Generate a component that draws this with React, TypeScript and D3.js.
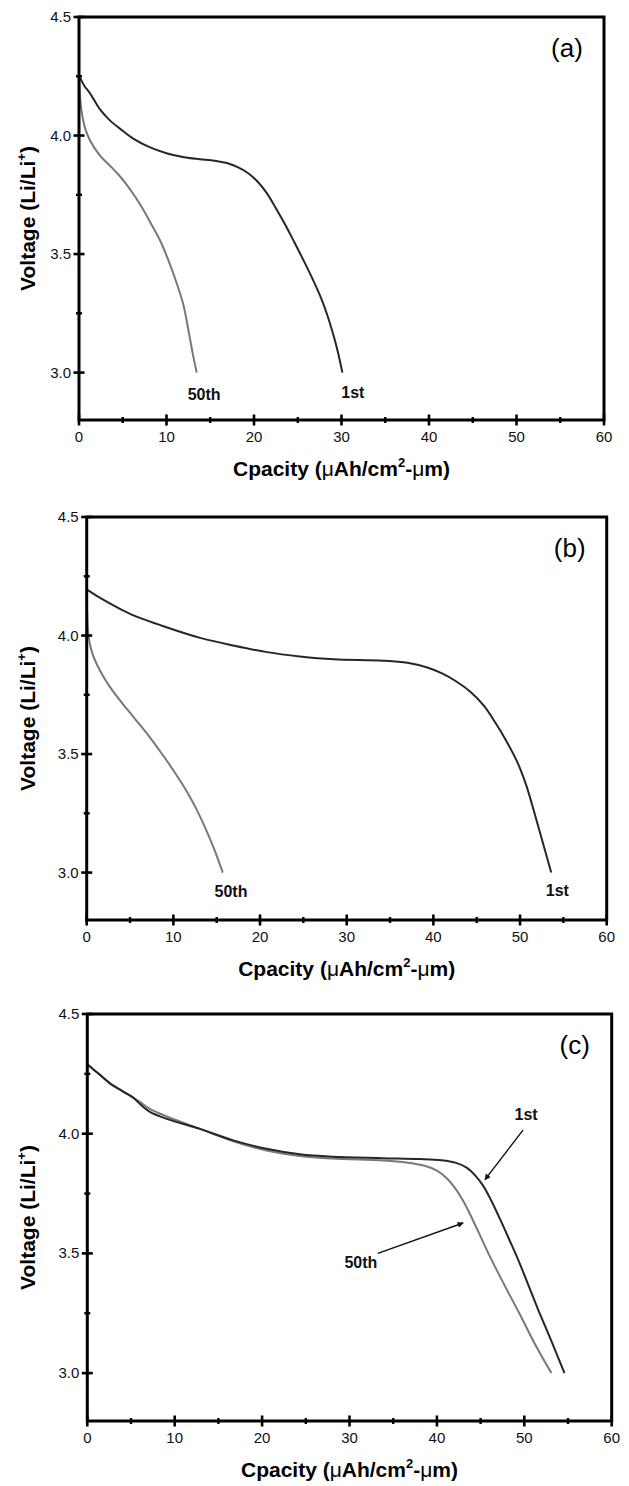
import React from 'react';
import * as d3 from 'd3';

// Axis ticks shared by the three discharge panels
const capacityTicks = [0, 10, 20, 30, 40, 50, 60];
const capacityMinorTicks = [5, 15, 25, 35, 45, 55];
const voltageTicks = [3.0, 3.5, 4.0, 4.5];
const voltageMinorTicks = [3.25, 3.75, 4.25];
const capacityDomain: [number, number] = [0, 60];
const voltageDomain: [number, number] = [2.8, 4.5];

// Discharge curves: [capacity (µAh/cm²-µm), voltage (V vs Li/Li+)]
const panelA_1st: [number, number][] = [
  [0, 4.255], [0.6, 4.21], [1.26, 4.178], [2.4, 4.11], [3.5, 4.065], [5, 4.02],
  [6.2, 3.987], [8, 3.952], [10, 3.925], [12, 3.908], [13.8, 3.9], [15.5, 3.894],
  [16.9, 3.884], [18.2, 3.866], [19.3, 3.842], [20.4, 3.806], [21.4, 3.76],
  [22.4, 3.7], [23.4, 3.635], [24.4, 3.565], [25.3, 3.5], [26.5, 3.41],
  [27.6, 3.32], [28.4, 3.24], [29.1, 3.155], [29.6, 3.085], [30.1, 3.0],
];
const panelA_50th: [number, number][] = [
  [0, 4.25], [0.15, 4.15], [0.35, 4.09], [0.7, 4.03], [1.25, 3.98], [2.4, 3.915],
  [3.4, 3.878], [4.4, 3.84], [5.4, 3.795], [6.4, 3.743], [7.3, 3.69],
  [8.2, 3.63], [9.3, 3.555], [10.2, 3.475], [11.0, 3.395], [11.9, 3.29],
  [12.6, 3.16], [13.0, 3.08], [13.45, 3.0],
];
const panelB_1st: [number, number][] = [
  [0, 4.195], [1.5, 4.16], [3.46, 4.12], [5.4, 4.085], [9.2, 4.035], [13.1, 3.99],
  [16.9, 3.958], [20.8, 3.93], [24.6, 3.912], [28.5, 3.9], [34.2, 3.894],
  [37, 3.885], [39.3, 3.865], [41, 3.84], [42.7, 3.805], [44.3, 3.762],
  [45.8, 3.705], [47.2, 3.63], [48.5, 3.55], [49.7, 3.465], [50.7, 3.37],
  [51.6, 3.26], [52.6, 3.13], [53.6, 3.0],
];
const panelB_50th: [number, number][] = [
  [0, 4.19], [0.05, 4.1], [0.2, 4.0], [0.6, 3.93], [1.15, 3.88], [2.0, 3.822],
  [2.9, 3.772], [4.2, 3.71], [5.5, 3.652], [7.2, 3.575], [8.8, 3.495],
  [10.2, 3.42], [11.5, 3.345], [12.6, 3.272], [13.6, 3.195], [14.7, 3.1],
  [15.7, 3.0],
];
const panelC_1st: [number, number][] = [
  [0, 4.29], [1.3, 4.25], [2.6, 4.21], [4, 4.178], [5.2, 4.152], [6.2, 4.118],
  [7.2, 4.09], [9.1, 4.062], [12.9, 4.02], [16.7, 3.972], [20.5, 3.937],
  [24.3, 3.914], [28, 3.904], [33.8, 3.898], [38, 3.894], [40.5, 3.889],
  [42.2, 3.878], [43.4, 3.858], [44.4, 3.825], [45.3, 3.782], [46.2, 3.722],
  [47.2, 3.645], [48.3, 3.556], [49.4, 3.465], [50.5, 3.364], [51.7, 3.255],
  [53.2, 3.125], [54.6, 3.0],
];
const panelC_50th: [number, number][] = [
  [0, 4.29], [1.3, 4.25], [2.6, 4.21], [4, 4.178], [5.2, 4.152], [6.2, 4.128],
  [7.2, 4.103], [9.1, 4.072], [12.9, 4.02], [16.7, 3.968], [20.5, 3.93],
  [24.3, 3.907], [28, 3.896], [33.8, 3.888], [36.5, 3.88], [38.6, 3.866],
  [40.0, 3.846], [41.1, 3.815], [42.1, 3.772], [43.0, 3.72], [44.0, 3.648],
  [45.0, 3.57], [46.0, 3.492], [47.2, 3.405], [48.3, 3.328], [49.4, 3.252],
  [51.2, 3.123], [53.1, 3.0],
];

const panelLetters = ['(a)', '(b)', '(c)'];
const cycleNames = ['1st', '50th'];

type Frame = { left: number; right: number; top: number; bottom: number };
type Note = { text: string; at: [number, number]; from?: [number, number]; to?: [number, number] };

const FONT = "'Liberation Sans', Arial, Helvetica, sans-serif";
const DARK = '#262626';
const GREY = '#787878';

const panels: {
  frame: Frame;
  letter: string;
  first: [number, number][];
  fiftieth: [number, number][];
  notes: Note[];
}[] = [
  {
    frame: { left: 79, right: 604, top: 17, bottom: 420 },
    letter: panelLetters[0],
    first: panelA_1st,
    fiftieth: panelA_50th,
    notes: [
      { text: cycleNames[1], at: [14.3, 2.884] },
      { text: cycleNames[0], at: [31.3, 2.892] },
    ],
  },
  {
    frame: { left: 86.7, right: 606.7, top: 517, bottom: 920 },
    letter: panelLetters[1],
    first: panelB_1st,
    fiftieth: panelB_50th,
    notes: [
      { text: cycleNames[1], at: [16.65, 2.897] },
      { text: cycleNames[0], at: [54.3, 2.9] },
    ],
  },
  {
    frame: { left: 87.3, right: 611.7, top: 1014, bottom: 1421 },
    letter: panelLetters[2],
    first: panelC_1st,
    fiftieth: panelC_50th,
    notes: [
      { text: cycleNames[0], at: [50.2, 4.057], from: [49.85, 4.015], to: [45.5, 3.808] },
      { text: cycleNames[1], at: [31.3, 3.441], from: [33.24, 3.5], to: [43.0, 3.627] },
    ],
  },
];

function Panel({ p, idx }: { p: (typeof panels)[number]; idx: number }) {
  const { frame } = p;
  const x = d3.scaleLinear().domain(capacityDomain).range([frame.left, frame.right]);
  const y = d3.scaleLinear().domain(voltageDomain).range([frame.bottom, frame.top]);
  const line = d3
    .line<[number, number]>()
    .x((d) => x(d[0]))
    .y((d) => y(d[1]))
    .curve(d3.curveCatmullRom.alpha(0.5));
  const midX = (frame.left + frame.right) / 2;
  const midY = (frame.top + frame.bottom) / 2;
  const markerId = `arrow-${idx}`;

  return (
    <g>
      <defs>
        <marker id={markerId} viewBox="0 0 10 10" refX="9" refY="5" markerWidth="8" markerHeight="6" orient="auto" markerUnits="userSpaceOnUse">
          <path d="M0,0 L10,5 L0,10 z" fill="#111" />
        </marker>
      </defs>

      {/* curves */}
      <path d={line(p.fiftieth) ?? ''} fill="none" stroke={GREY} strokeWidth={2} strokeLinejoin="round" />
      <path d={line(p.first) ?? ''} fill="none" stroke={DARK} strokeWidth={2} strokeLinejoin="round" />

      {/* frame */}
      <rect
        x={frame.left}
        y={frame.top}
        width={frame.right - frame.left}
        height={frame.bottom - frame.top}
        fill="none"
        stroke="#000"
        strokeWidth={3}
      />

      {/* x ticks */}
      {capacityTicks.map((t) => (
        <g key={`xt${t}`}>
          <line x1={x(t)} x2={x(t)} y1={frame.bottom - 5.5} y2={frame.bottom + 5.5} stroke="#000" strokeWidth={2.6} />
          <text x={x(t)} y={frame.bottom + 22} textAnchor="middle" fontFamily={FONT} fontSize={15} fill="#111">
            {t}
          </text>
        </g>
      ))}
      {capacityMinorTicks.map((t) => (
        <line key={`xm${t}`} x1={x(t)} x2={x(t)} y1={frame.bottom - 3} y2={frame.bottom + 3} stroke="#000" strokeWidth={2.4} />
      ))}

      {/* y ticks */}
      {voltageTicks.map((t) => (
        <g key={`yt${t}`}>
          <line x1={frame.left - 5.5} x2={frame.left + 5.5} y1={y(t)} y2={y(t)} stroke="#000" strokeWidth={2.6} />
          <text x={frame.left - 8} y={y(t) + 5} textAnchor="end" fontFamily={FONT} fontSize={15} fill="#111">
            {t.toFixed(1)}
          </text>
        </g>
      ))}
      {voltageMinorTicks.map((t) => (
        <line key={`ym${t}`} x1={frame.left - 3} x2={frame.left + 3} y1={y(t)} y2={y(t)} stroke="#000" strokeWidth={2.4} />
      ))}

      {/* axis titles */}
      <text x={midX} y={frame.bottom + 56} textAnchor="middle" fontFamily={FONT} fontSize={21} fontWeight="bold" fill="#000">
        Cpacity (<tspan fontWeight="normal">μ</tspan>Ah/cm
        <tspan fontSize={13} dy={-9}>2</tspan>
        <tspan dy={9}>-</tspan>
        <tspan fontWeight="normal">μ</tspan>m)
      </text>
      <text
        transform={`translate(35, ${midY}) rotate(-90)`}
        textAnchor="middle"
        fontFamily={FONT}
        fontSize={21}
        fontWeight="bold"
        fill="#000"
      >
        Voltage (Li/Li<tspan fontSize={13} dy={-9}>+</tspan>
        <tspan dy={9}>)</tspan>
      </text>

      {/* panel letter */}
      <text x={frame.right - 37} y={frame.top + 40} textAnchor="middle" fontFamily={FONT} fontSize={26} fill="#000">
        {p.letter}
      </text>

      {/* cycle annotations */}
      {p.notes.map((n) => (
        <g key={n.text}>
          <text x={x(n.at[0])} y={y(n.at[1])} textAnchor="middle" fontFamily={FONT} fontSize={16} fontWeight="bold" fill="#111">
            {n.text}
          </text>
          {n.from && n.to && (
            <line
              x1={x(n.from[0])}
              y1={y(n.from[1])}
              x2={x(n.to[0])}
              y2={y(n.to[1])}
              stroke="#111"
              strokeWidth={1.4}
              markerEnd={`url(#${markerId})`}
            />
          )}
        </g>
      ))}
    </g>
  );
}

export default function App() {
  return (
    <svg
      width={629}
      height={1486}
      viewBox="0 0 629 1486"
      style={{ position: 'absolute', left: 0, top: 0, display: 'block', background: '#fff' }}
    >
      <rect x={0} y={0} width={629} height={1486} fill="#fff" />
      {panels.map((p, i) => (
        <Panel key={p.letter} p={p} idx={i} />
      ))}
    </svg>
  );
}
